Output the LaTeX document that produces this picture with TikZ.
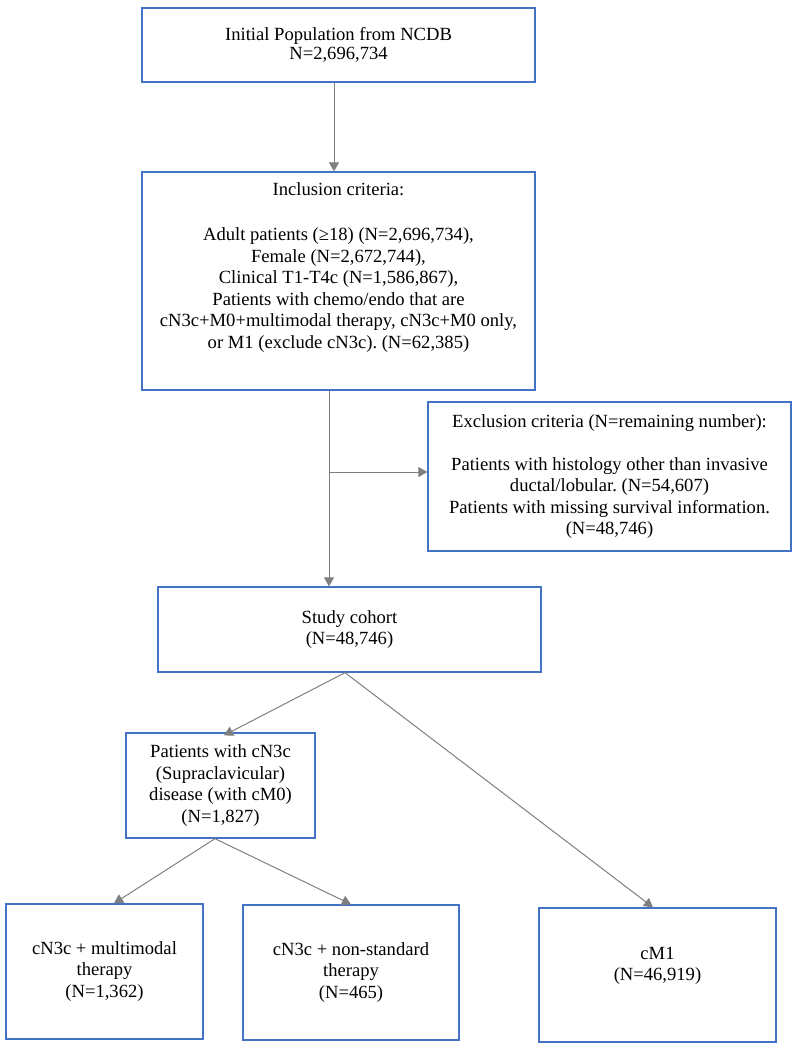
\documentclass[tikz,border=0pt]{standalone}
\usepackage{fontspec}
\setmainfont{Liberation Serif}
\usetikzlibrary{arrows.meta}
\definecolor{boxblue}{HTML}{4472C4}
\definecolor{linegray}{HTML}{7F7F7F}
\frenchspacing
\begin{document}
\begin{tikzpicture}[x=1pt,y=-1pt,
  box/.style={draw=boxblue,line width=1.3pt,align=center,inner sep=0pt,
    font=\fontsize{18.6}{21.5}\selectfont},
  txt/.style={align=center,inner sep=0pt,font=\fontsize{18.6}{21.5}\selectfont},
  conn/.style={draw=linegray,line width=1pt},
  arr/.style={conn,-{Triangle[width=10pt,length=9pt]}}]
\useasboundingbox (0,0) rectangle (798,1050);

\node[box,minimum width=393pt,minimum height=74pt,font=\fontsize{18.6}{18.5}\selectfont] (init) at (338.5,45)
  {Initial Population from NCDB\\N=2,696,734};

\node[box,minimum width=393pt,minimum height=218pt] (inc) at (338.5,281) {};
\node[txt,anchor=north] (inctext) at (338.5,182)
  {Inclusion criteria:\\[24pt]
   Adult patients (≥18) (N=2,696,734),\\
   Female (N=2,672,744),\\
   Clinical T1-T4c (N=1,586,867),\\
   Patients with chemo/endo that are\\
   cN3c+M0+multimodal therapy, cN3c+M0 only,\\
   or M1 (exclude cN3c). (N=62,385)};

\node[box,minimum width=363pt,minimum height=149pt] (excl) at (609.5,476.5)
  {Exclusion criteria (N=remaining number):\\[21.5pt]
   Patients with histology other than invasive\\
   ductal/lobular. (N=54,607)\\
   Patients with missing survival information.\\
   (N=48,746)};

\node[box,minimum width=383pt,minimum height=85pt] (study) at (349.5,629.5)
  {Study cohort\\(N=48,746)};

\node[box,minimum width=189pt,minimum height=105pt] (pat) at (220.5,785.5)
  {Patients with cN3c\\(Supraclavicular)\\disease (with cM0)\\(N=1,827)};

\node[box,minimum width=197pt,minimum height=135pt] (multi) at (104.5,971.5)
  {cN3c + multimodal\\therapy\\(N=1,362)};

\node[box,minimum width=216pt,minimum height=135pt] (nonstd) at (351,972.5)
  {cN3c + non-standard\\therapy\\(N=465)};

\node[box,minimum width=237pt,minimum height=134pt] (cmone) at (657.5,975) {};
\node[txt] (cmonetext) at (657.5,966) {cM1\\(N=46,919)};

% connectors
\draw[arr] ([xshift=-4.5pt]init.south) -- ([xshift=-4.5pt]inc.north);
\coordinate (incout) at ([xshift=-9.5pt]inc.south);
\draw[arr] (incout) -- (incout |- study.north);
\coordinate (branch) at (329,472);
\draw[arr] (branch) -- (branch -| excl.west);
\coordinate (studyout) at ([xshift=-4.5pt]study.south);
\draw[arr] (studyout) -- ([xshift=3.5pt,yshift=-3pt]pat.north);
\draw[arr] (studyout) -- ([xshift=-4.5pt]cmone.north);
\coordinate (patout) at ([xshift=-5.5pt]pat.south);
\draw[arr] (patout) -- ([xshift=9.5pt]multi.north);
\draw[arr] (patout) -- (nonstd.north);
\end{tikzpicture}
\end{document}
